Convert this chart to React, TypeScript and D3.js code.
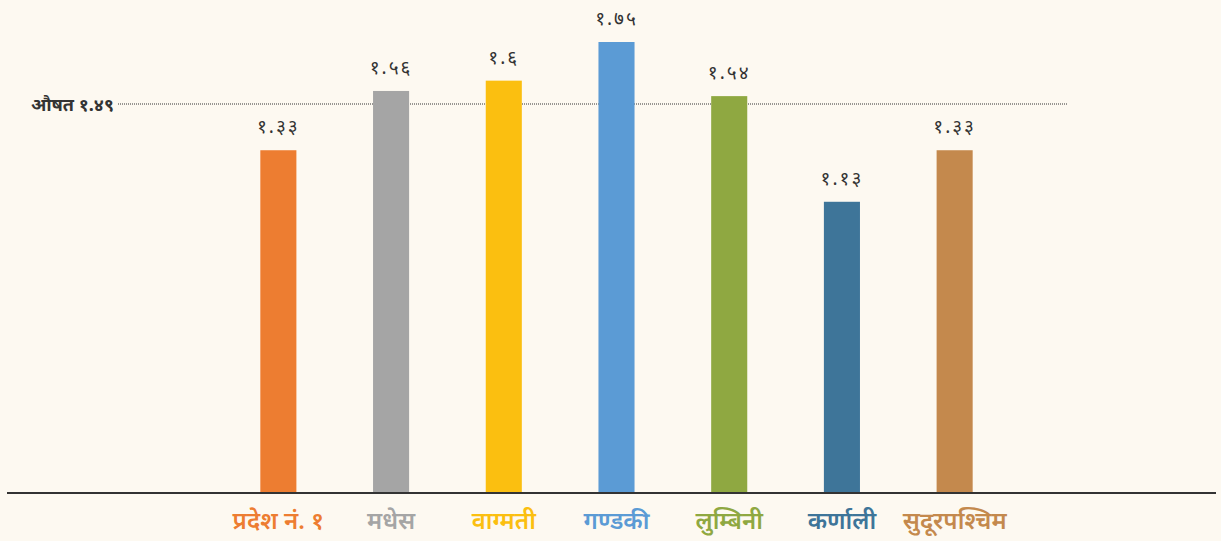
import React from "react";
import * as d3 from "d3";

const categories = ["प्रदेश नं. १", "मधेस", "वाग्मती", "गण्डकी", "लुम्बिनी", "कर्णाली", "सुदूरपश्चिम"];
const values = [1.33, 1.56, 1.6, 1.75, 1.54, 1.13, 1.33];
const valueLabels = ["१.३३", "१.५६", "१.६", "१.७५", "१.५४", "१.१३", "१.३३"];
const colors = ["#ED7D31", "#A5A5A5", "#FBBF10", "#5B9BD5", "#8FA841", "#3E7599", "#C4894D"];
const average = 1.49;
const averageLabel = "औषत १.४९";

const W = 1221;
const H = 541;

export default function App() {
  const x = d3.scaleBand<string>().domain(categories).range([222, 1011]).paddingInner(0.68).paddingOuter(0.34);
  const y = d3.scaleLinear().domain([0, 1.75]).range([493, 42]);
  const bw = x.bandwidth();
  const font = "'Noto Sans', 'Open Sans', sans-serif";
  return (
    <div style={{ position: "absolute", left: 0, top: 0 }}>
      <svg width={W} height={H} style={{ display: "block" }}>
        <rect x={0} y={0} width={W} height={H} fill="#FDF9F1" />
        <line x1={118} x2={1068} y1={y(average) - 5} y2={y(average) - 5} stroke="#333" strokeWidth={1} strokeDasharray="1,1" />
        <text x={114} y={y(average) - 4} dy="0.35em" textAnchor="end" fontFamily={font} fontWeight={700} fontSize={18} fill="#333">
          {averageLabel}
        </text>
        {categories.map((c, i) => (
          <g key={c}>
            <rect x={x(c)} y={y(values[i])} width={bw} height={y(0) - y(values[i])} fill={colors[i]} />
            <text x={(x(c) as number) + bw / 2} y={y(values[i]) - 17} textAnchor="middle" fontFamily={font} fontSize={19} letterSpacing={2} fill="#333">
              {valueLabels[i]}
            </text>
            <text x={(x(c) as number) + bw / 2} y={529} textAnchor="middle" fontFamily={font} fontWeight={600} fontSize={24} fill={colors[i]}>
              {c}
            </text>
          </g>
        ))}
        <line x1={7} x2={1216} y1={493} y2={493} stroke="#333" strokeWidth={2} />
      </svg>
    </div>
  );
}
